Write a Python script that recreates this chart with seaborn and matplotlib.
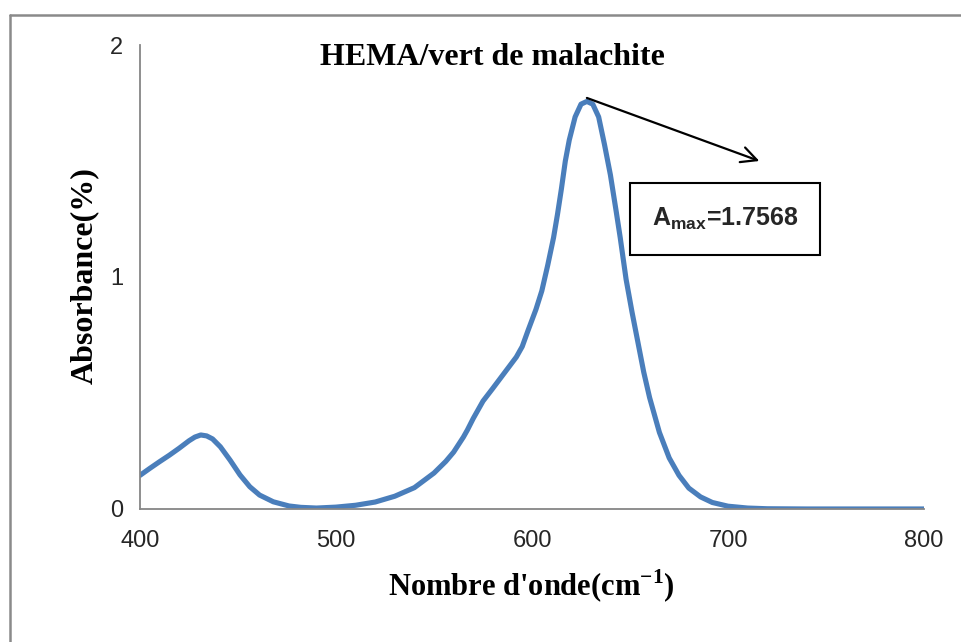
import matplotlib
matplotlib.use("Agg")
import matplotlib.pyplot as plt
import seaborn as sns
import pandas as pd
from matplotlib.patches import Rectangle
from matplotlib.lines import Line2D

nombre_onde = [400, 405, 410, 415, 420, 425, 428, 431, 434, 437, 441, 446, 451, 456,
               461, 468, 476, 482, 490, 500, 510, 520, 530, 540, 550, 556, 560, 565,
               567, 570, 575, 580, 584, 588, 592, 595, 598, 602, 605, 608, 611, 613,
               615, 617, 619, 622, 625, 628, 631, 634, 637, 640, 643, 645, 648, 651,
               654, 657, 660, 665, 670, 675, 680, 686, 692, 700, 710, 720, 740, 760,
               780, 800]
absorbance = [0.145, 0.175, 0.204, 0.232, 0.262, 0.294, 0.31, 0.319, 0.315, 0.302,
              0.268, 0.21, 0.147, 0.096, 0.06, 0.031, 0.013, 0.007, 0.004, 0.008,
              0.016, 0.03, 0.055, 0.092, 0.155, 0.205, 0.245, 0.31, 0.34, 0.39, 0.465,
              0.52, 0.565, 0.61, 0.655, 0.7, 0.77, 0.86, 0.94, 1.05, 1.17, 1.27, 1.38,
              1.5, 1.59, 1.69, 1.745, 1.7568, 1.745, 1.69, 1.57, 1.44, 1.28, 1.17,
              0.99, 0.85, 0.72, 0.59, 0.48, 0.33, 0.22, 0.145, 0.09, 0.052, 0.028,
              0.012, 0.004, 0.001, 0.0, 0.0, 0.0, 0.0]
pic_x = 628
pic_y = 1.7568
x_ticks = [400, 500, 600, 700, 800]
y_ticks = [0, 1, 2]

df = pd.DataFrame({"x": nombre_onde, "y": absorbance})

sns.set_theme(style="white")
gris = "#868686"

fig = plt.figure(figsize=(9.61, 6.42), dpi=100)
ax = fig.add_axes([0.1457, 0.2072, 0.8158, 0.7227])

sns.lineplot(data=df, x="x", y="y", ax=ax, color="#4A7EBB", linewidth=3.7)
for ln in ax.get_lines():
    ln.set_solid_joinstyle("round")
    ln.set_solid_capstyle("round")

ax.set_xlim(400, 800)
ax.set_ylim(0, 2)
ax.set_xticks(x_ticks)
ax.set_yticks(y_ticks)
for s in ["top", "right"]:
    ax.spines[s].set_visible(False)
for s in ["left", "bottom"]:
    ax.spines[s].set_color(gris)
    ax.spines[s].set_linewidth(1.3)
ax.tick_params(axis="both", direction="out", length=6, width=1.3, color=gris,
               labelsize=17, pad=6)
ax.tick_params(axis="x", pad=9)
for lab in ax.get_xticklabels() + ax.get_yticklabels():
    lab.set_family(["Liberation Sans", "DejaVu Sans"])
ax.set_xlabel("")
ax.set_ylabel("")

serif_bold = dict(family=["Liberation Serif", "DejaVu Serif"], weight="bold",
                  color="black")
fig.text(0.512, 0.911, "HEMA/vert de malachite", ha="center", va="center",
         fontsize=23, **serif_bold)
fig.text(0.553, 0.087, "Nombre d'onde(cm$^{\\mathregular{-1}}$)", ha="center",
         va="center", fontsize=22, **serif_bold)
fig.text(0.088, 0.57, "Absorbance(%)", ha="center", va="center", rotation=90,
         fontsize=23, **serif_bold)

# flèche vers la boîte
ax.annotate("", xy=(716, 1.50), xytext=(pic_x, pic_y + 0.015),
            arrowprops=dict(arrowstyle="->", color="black", lw=1.6,
                            mutation_scale=28, shrinkA=0, shrinkB=0))

ax.add_patch(Rectangle((650, 1.095), 97, 0.31, fill=False, edgecolor="black",
                       linewidth=1.5, zorder=5))
ax.text(698.5, 1.25, "A$_{\\mathregular{max}}$=%.4f" % pic_y, ha="center",
        va="center", fontsize=18, fontweight="bold",
        family=["Liberation Sans", "DejaVu Sans"], zorder=6)

# cadre extérieur
fig.add_artist(Line2D([10 / 961, 1], [1 - 15 / 642, 1 - 15 / 642],
                      transform=fig.transFigure, color="#8a8a8a", lw=1.8))
fig.add_artist(Line2D([10 / 961, 10 / 961], [0, 1 - 15 / 642],
                      transform=fig.transFigure, color="#8a8a8a", lw=1.8))

fig.savefig("out.png", dpi=100)
